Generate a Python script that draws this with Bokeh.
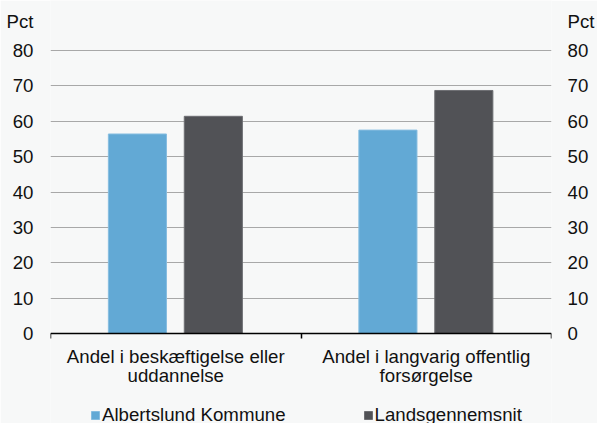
from bokeh.plotting import figure
from bokeh.models import (ColumnDataSource, Range1d, LinearAxis, FixedTicker,
                          Legend, LegendItem)
from bokeh.embed import file_html
from bokeh.resources import INLINE

# ---- data ----
categories = ["Andel i beskæftigelse eller\nuddannelse",
              "Andel i langvarig offentlig\nforsørgelse"]
series_names = ["Albertslund Kommune", "Landsgennemsnit"]
albertslund = [56.4, 57.5]
landsgennemsnit = [61.4, 68.7]
y_ticks = [0, 10, 20, 30, 40, 50, 60, 70, 80]
unit_label = "Pct"

# ---- style / layout ----
FONT = "Liberation Sans"
FS = "18.67px"
BG = "#f7f8f8"
BLUE = "#62a9d5"
GRAY = "#515256"
TXT = "#111111"
W, H = 597, 423
TOP_PX, ZERO_PX = 50, 333          # pixel rows of the top and zero gridlines
UNIT_PX = 21                        # pixel row of the "Pct" labels
scale = (ZERO_PX - TOP_PX) / (y_ticks[-1] - y_ticks[0])
y_start = y_ticks[0] - (H - ZERO_PX) / scale
y_end = y_ticks[-1] + TOP_PX / scale
unit_pos = y_ticks[-1] + (TOP_PX - UNIT_PX) / scale

n = len(categories)
centers = [i + 0.5 for i in range(n)]
boundaries = [float(i) for i in range(n + 1)]
xa = [c - 0.153 for c in centers]
xb = [c + 0.150 for c in centers]

src = ColumnDataSource(dict(xa=xa, xb=xb, a=albertslund, b=landsgennemsnit))

p = figure(width=W, height=H,
           x_range=Range1d(0, n), y_range=Range1d(y_start, y_end),
           output_backend="svg", toolbar_location=None,
           background_fill_color=BG, border_fill_color=BG,
           outline_line_color=None,
           min_border_left=50, min_border_right=41,
           min_border_top=0, min_border_bottom=0)

r1 = p.vbar(x="xa", top="a", bottom=0, width=0.232, source=src,
            fill_color=BLUE, line_color="#86bde0", line_width=1)
r2 = p.vbar(x="xb", top="b", bottom=0, width=0.232, source=src,
            fill_color=GRAY, line_color="#6e6f73", line_width=1)

# x axis pinned at zero
xax = p.xaxis[0]
xax.fixed_location = 0
xax.ticker = FixedTicker(ticks=centers, minor_ticks=boundaries)
xax.major_label_overrides = {c: lab for c, lab in zip(centers, categories)}
xax.major_tick_line_color = None
xax.major_tick_in = 0
xax.major_tick_out = 0
xax.minor_tick_in = 0
xax.minor_tick_out = 5
xax.minor_tick_line_color = "black"
xax.minor_tick_line_width = 1.5
xax.axis_line_color = "black"
xax.axis_line_width = 1.5
xax.major_label_standoff = 7
xax.major_label_text_font = FONT
xax.major_label_text_font_size = FS
xax.major_label_text_color = TXT
xax.major_label_text_line_height = 0.93

# y axes (tick labels + unit label on top)
def style_y(ax, standoff):
    ax.ticker = FixedTicker(ticks=y_ticks + [unit_pos])
    ax.major_label_overrides = {unit_pos: unit_label}
    ax.axis_line_color = None
    ax.major_tick_line_color = None
    ax.minor_tick_line_color = None
    ax.major_tick_out = 0
    ax.major_tick_in = 0
    ax.major_label_standoff = standoff
    ax.major_label_text_font = FONT
    ax.major_label_text_font_size = FS
    ax.major_label_text_color = TXT

style_y(p.yaxis[0], 17)
yr = LinearAxis()
style_y(yr, 16)
p.add_layout(yr, "right")

p.xgrid.visible = False
p.ygrid.ticker = FixedTicker(ticks=y_ticks[1:])
p.ygrid.grid_line_color = "#a8a8a8"
p.ygrid.grid_line_width = 1

legend = Legend(items=[LegendItem(label=series_names[0], renderers=[r1]),
                       LegendItem(label=series_names[1], renderers=[r2])],
                orientation="horizontal", location=(40, -3),
                background_fill_alpha=0, border_line_color=None,
                padding=0, margin=0, spacing=77,
                glyph_width=10, glyph_height=10, label_height=10,
                label_standoff=2, label_text_font=FONT,
                label_text_font_size=FS, label_text_color=TXT,
                label_text_baseline="middle")
p.add_layout(legend)

open("out.html", "w").write(file_html(p, INLINE))
